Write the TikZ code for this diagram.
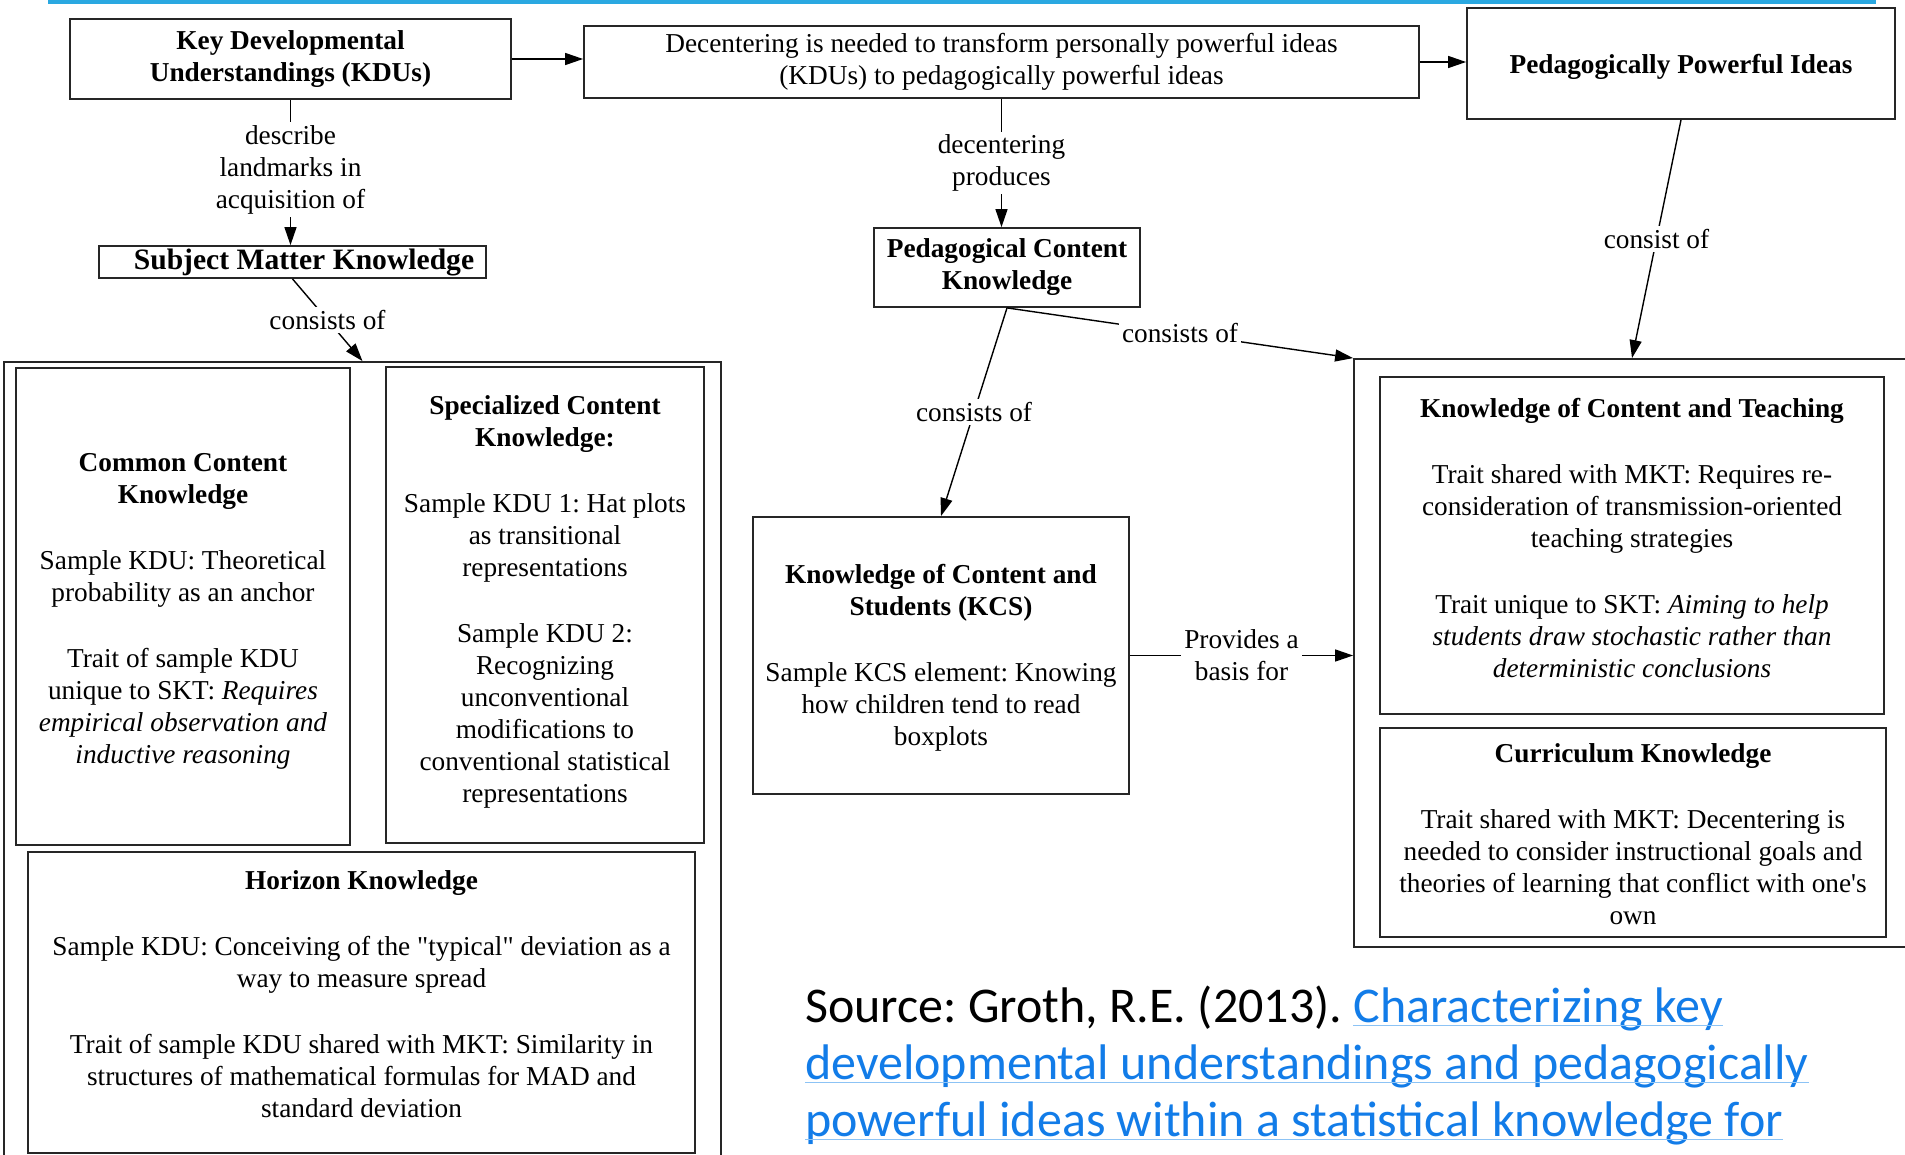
\documentclass[tikz,border=0pt]{standalone}
\usepackage{fontspec}
\setmainfont{Liberation Serif}[Ligatures=TeXOff]
\newfontfamily\srcfont{Carlito}
\usepackage{tikz}
\usetikzlibrary{
    arrows.meta,
    positioning
}
\definecolor{barblue}{RGB}{42,168,225}
\definecolor{linkblue}{RGB}{18,124,232}
\definecolor{lineblue}{RGB}{140,195,245}
\newcommand{\boxfont}{\fontsize{27.3}{32}\selectfont}
\newcommand{\gap}{\\[34pt]}
\frenchspacing

\tikzset{
    box/.style={draw=black!85, line width=1.8pt, align=center, inner sep=0pt, font=\boxfont},
    boxtext/.style={align=center, inner sep=0pt, font=\boxfont},
    conn/.style={line width=1.4pt, -{Triangle[length=18pt, width=12pt]}},
    lbl/.style={fill=white, align=center, inner sep=3pt, font=\boxfont},
    src/.style={anchor=base west, inner sep=0pt, font=\srcfont\fontsize{50}{57}\selectfont},
    uline/.style={draw=lineblue, line width=1.2pt}
}

\begin{document}
\begin{tikzpicture}[x=1pt, y=-1pt]
                        \useasboundingbox (0, 0) rectangle (1905, 1155);
                        \fill[barblue] (48, 0) rectangle (1876, 4);

                        \node[box, minimum width=441, minimum height=80] (kdu) at (290.5, 59)
                            {\textbf{Key Developmental}\\\textbf{Understandings (KDUs)}};
                        \node[box, minimum width=835, minimum height=72] (dec) at (1001.5, 62)
                            {Decentering is needed to transform personally powerful ideas\\(KDUs) to pedagogically powerful ideas};
                        \node[box, minimum width=428, minimum height=111] (ppi) at (1681, 63.5) {};
                        \node[boxtext] (ppi-txt) at ([yshift=-3pt]ppi.center)
                            {\textbf{Pedagogically Powerful Ideas}};
                        \node[box, minimum width=387, minimum height=32] (smk) at (292.5, 262) {};
                        \node[boxtext, font=\fontsize{29.6}{32}\selectfont] (smk-txt) at ([xshift=11.5pt]smk.center)
                            {\textbf{Subject Matter Knowledge}};
                        \node[box, minimum width=266, minimum height=79] (pck) at (1007, 267.5)
                            {\textbf{Pedagogical Content}\\\textbf{Knowledge}};

                        \node[box, minimum width=717, minimum height=800] (lcont) at (362.5, 762) {};
                        \node[box, minimum width=556, minimum height=588] (rcont) at (1632, 653) {};

                        \node[box, minimum width=334, minimum height=477] (cck) at (183, 606.5) {};
                        \node[boxtext] (cck-txt) at ([yshift=-5pt]cck.center)
                            {\textbf{Common Content}\\\textbf{Knowledge}\gap
                             Sample KDU: Theoretical\\probability as an anchor\gap
                             Trait of sample KDU\\unique to SKT: \textit{Requires}\\
                             \textit{empirical observation and}\\\textit{inductive reasoning}};
                        \node[box, minimum width=318, minimum height=476] (sck) at (545, 605) {};
                        \node[boxtext] (sck-txt) at ([yshift=3pt]sck.center)
                            {\textbf{Specialized Content}\\\textbf{Knowledge:}\gap
                             Sample KDU 1: Hat plots\\as transitional\\representations\gap
                             Sample KDU 2:\\Recognizing\\unconventional\\modifications to\\
                             conventional statistical\\representations};
                        \node[box, minimum width=667, minimum height=301] (hk) at (361.5, 1002.5) {};
                        \node[boxtext] (hk-txt) at ([yshift=8pt]hk.center)
                            {\textbf{Horizon Knowledge}\gap
                             Sample KDU: Conceiving of the "typical" deviation as a\\way to measure spread\gap
                             Trait of sample KDU shared with MKT: Similarity in\\
                             structures of mathematical formulas for MAD and\\standard deviation};
                        \node[box, minimum width=376, minimum height=277] (kcs) at (941, 655.5) {};
                        \node[boxtext] (kcs-txt) at ([yshift=-2pt]kcs.center)
                            {\textbf{Knowledge of Content and}\\\textbf{Students (KCS)}\gap
                             Sample KCS element: Knowing\\how children tend to read\\boxplots};
                        \node[box, minimum width=504, minimum height=337] (kct) at (1632, 545.5) {};
                        \node[boxtext] (kct-txt) at ([yshift=7pt]kct.center)
                            {\textbf{Knowledge of Content and Teaching}\gap
                             Trait shared with MKT: Requires re-\\consideration of transmission-oriented\\
                             teaching strategies\gap
                             Trait unique to SKT: \textit{Aiming to help}\\
                             \textit{students draw stochastic rather than}\\\textit{deterministic conclusions}};
                        \node[box, minimum width=506, minimum height=209] (ck) at (1633, 832.5) {};
                        \node[boxtext] (ck-txt) at ([yshift=-2pt]ck.center)
                            {\textbf{Curriculum Knowledge}\gap
                             Trait shared with MKT: Decentering is\\needed to consider instructional goals and\\
                             theories of learning that conflict with one's\\own};

                        \draw[conn] (kdu.east) -- (kdu.east -| dec.west);
                        \draw[conn] (dec.east) -- (dec.east -| ppi.west);
                        \draw[conn] (kdu.south) -- node[lbl, pos=0.48] {describe\\landmarks in\\acquisition of} (kdu.south |- smk.north);
                        \draw[conn] (smk.south) -- node[lbl] {consists of} (lcont.north);
                        \draw[conn] (dec.south) -- node[lbl] {decentering\\produces} (dec.south |- pck.north);
                        \draw[conn] (pck.south) -- node[lbl] {consists of} (kcs.north);
                        \draw[conn] (pck.south) -- node[lbl] {consists of} (rcont.north west);
                        \draw[conn] (ppi.south) -- node[lbl] {consist of} (rcont.north);
                        \draw[conn] (kcs.east) -- node[lbl] {Provides a\\basis for} (kcs.east -| rcont.west);

                        \node[src] (src1) at (805, 1022) {Source: Groth, R.E. (2013).};
                        \node[src, text=linkblue] (lnk1) at ([xshift=11pt]src1.base east) {Characterizing key};
                        \node[src, text=linkblue] (lnk2) at (805, 1079) {developmental understandings and pedagogically};
                        \node[src, text=linkblue] (lnk3) at (805, 1136) {powerful ideas within a statistical knowledge for};
                        \foreach \n in {lnk1, lnk2, lnk3}
                            \draw[uline] ([yshift=-3.5pt]\n.base west) -- ([yshift=-3.5pt]\n.base east);
                    \end{tikzpicture}
\end{document}
